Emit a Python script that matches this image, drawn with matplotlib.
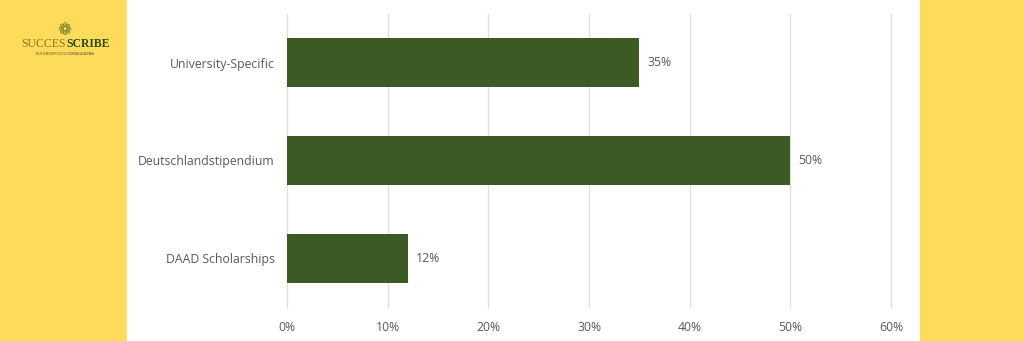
import matplotlib

matplotlib.use("Agg")
import matplotlib.pyplot as plt
from matplotlib.patches import Rectangle
from matplotlib.ticker import FuncFormatter

# data (bottom to top)
categories = ["DAAD Scholarships", "Deutschlandstipendium", "University-Specific"]
shares = [12, 50, 35]
x_ticks = [0, 10, 20, 30, 40, 50, 60]

YELLOW = "#FDDC5C"
GREEN = "#3D5A25"
GREY = "#595959"

plt.rcParams["font.family"] = ["Open Sans", "DejaVu Sans"]

fig = plt.figure(figsize=(10.24, 3.41), dpi=100)
fig.patch.set_facecolor("white")

# yellow side panels
fig.patches.append(Rectangle((0, 0), 0.124, 1, transform=fig.transFigure,
                             facecolor=YELLOW, edgecolor="none", zorder=0))
fig.patches.append(Rectangle((0.898, 0), 0.102, 1, transform=fig.transFigure,
                             facecolor=YELLOW, edgecolor="none", zorder=0))

ax = fig.add_axes([0.2803, 0.0997, 0.5898, 0.8593])
ax.set_facecolor("none")
ypos = list(range(len(categories)))
ax.barh(ypos, shares, height=0.5, color=GREEN, zorder=3)
for y, v in zip(ypos, shares):
    ax.annotate(f"{v}%", (v, y), xytext=(6, 0), textcoords="offset points",
                va="center", ha="left", fontsize=8.8, color=GREY)

ax.set_xlim(0, 60)
ax.set_ylim(-0.5, 2.5)
ax.set_xticks(x_ticks)
ax.xaxis.set_major_formatter(FuncFormatter(lambda v, _: f"{v:.0f}%"))
ax.set_yticks(ypos)
ax.set_yticklabels(categories)
ax.tick_params(axis="x", length=0, pad=10, labelsize=8.8, labelcolor=GREY)
ax.tick_params(axis="y", length=0, pad=9, labelsize=8.8, labelcolor=GREY)
ax.grid(axis="x", color="#DEDEDE", lw=0.9, zorder=0)
for gl in ax.get_xgridlines():
    gl.set_clip_on(False)
for s in ax.spines.values():
    s.set_visible(False)

# logo
fig.text(0.0625, 0.912, "\u2741", ha="center", va="center", fontsize=12,
         color="#6B7A1E", family="DejaVu Sans")
fig.text(0.0645, 0.871, "SUCCES", ha="right", va="center", fontsize=8.5,
         color="#8A7A1C", family="Liberation Serif")
fig.text(0.0645, 0.871, "SCRIBE", ha="left", va="center", fontsize=8.5,
         color="#2F4A1A", family="Liberation Serif", weight="bold")
fig.text(0.0625, 0.843, "YOUR SUBSCRIPTION TO OVERSEAS ACADEMIA", ha="center",
         va="center", fontsize=2, color="#3A3A1A")

fig.savefig("out.png", dpi=100)
